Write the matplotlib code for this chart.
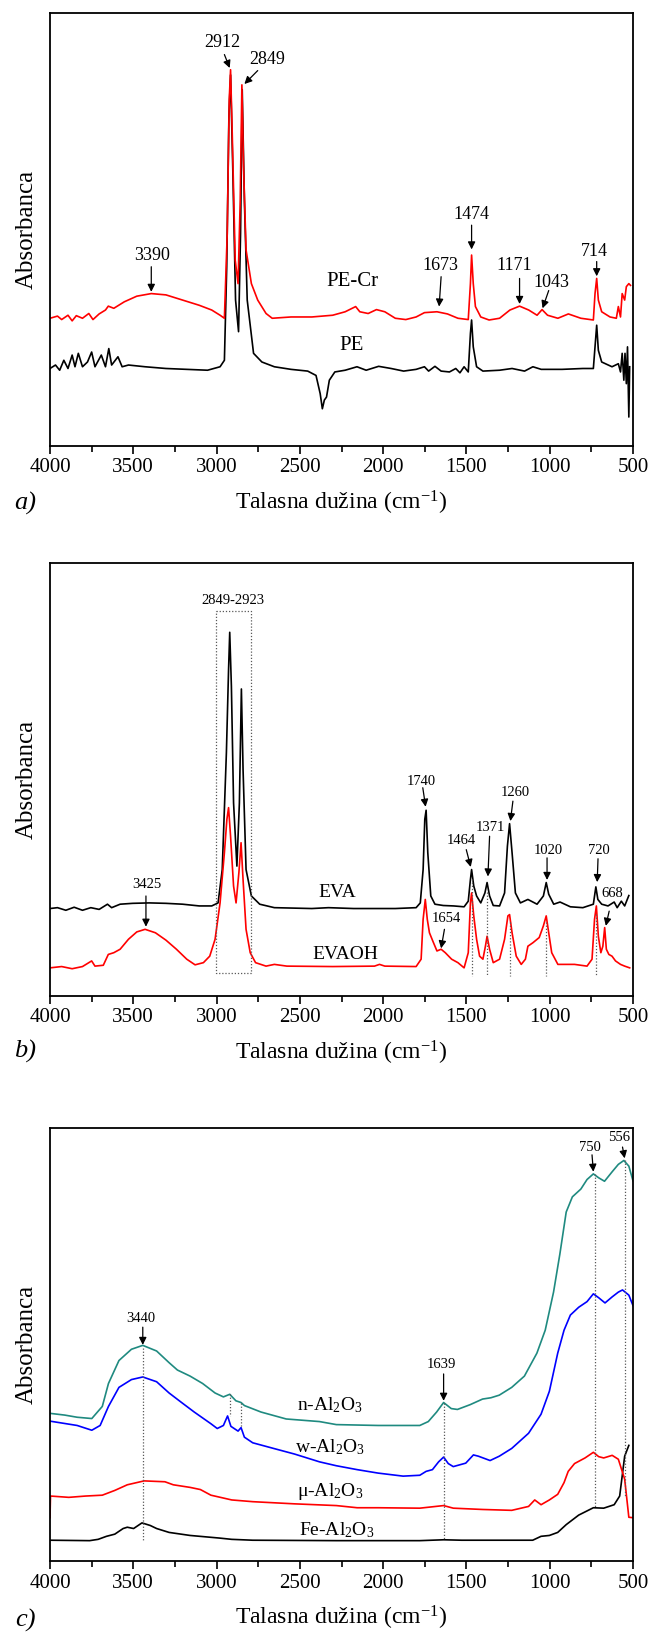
import matplotlib
matplotlib.use("Agg")
import matplotlib.pyplot as plt

plt.rcParams["font.family"] = ["Liberation Serif", "DejaVu Serif"]
plt.rcParams["mathtext.fontset"] = "custom"
plt.rcParams["mathtext.rm"] = "Liberation Serif"
plt.rcParams["mathtext.it"] = "Liberation Serif:italic"

# ---- a) PE and PE-Cr ----
pe_cr_wn = [4000, 3955, 3930, 3892, 3867, 3842, 3805, 3767, 3742, 3705, 3667, 3650, 3617, 3554, 3479,
            3392, 3304, 3204, 3104, 3029, 2979, 2953, 2936, 2924, 2916, 2906, 2888, 2871, 2858, 2848,
            2838, 2823, 2791, 2753, 2703, 2666, 2553, 2428, 2303, 2228, 2165, 2140, 2090, 2040, 1990,
            1927, 1864, 1802, 1752, 1677, 1614, 1551, 1489, 1476, 1469, 1459, 1446, 1414, 1364, 1301,
            1239, 1181, 1126, 1076, 1046, 1013, 951, 888, 813, 738, 728, 718, 708, 688, 638, 600, 588,
            575, 565, 550, 540, 525, 515]
pe_cr_abs = [29.5, 30.0, 29.2, 30.2, 28.9, 30.1, 29.5, 30.6, 29.2, 30.5, 31.4, 32.3, 31.8, 33.3, 34.6,
             35.2, 34.9, 33.7, 32.5, 31.4, 30.2, 29.5, 49.1, 80.0, 86.9, 72.2, 42.9, 37.5, 56.8, 83.4,
             64.5, 45.3, 37.5, 33.7, 30.6, 29.5, 29.8, 29.8, 30.2, 31.0, 32.2, 31.0, 30.6, 31.5, 31.0,
             29.5, 29.2, 29.8, 30.8, 31.0, 30.5, 29.5, 29.2, 37.5, 44.1, 37.5, 32.2, 29.8, 29.1, 29.5,
             31.4, 32.3, 31.4, 30.2, 31.5, 30.2, 29.5, 30.5, 29.5, 29.1, 35.2, 38.7, 33.7, 31.0, 29.8, 29.5, 32.2,
             29.8, 35.2, 33.7, 36.8, 37.5, 37.1]

pe_wn = [4000, 3967, 3942, 3917, 3892, 3867, 3850, 3830, 3805, 3775, 3750, 3730, 3692, 3667, 3647,
         3630, 3592, 3567, 3529, 3429, 3304, 3179, 3054, 2979, 2953, 2939, 2926, 2916, 2903, 2886,
         2868, 2856, 2846, 2833, 2816, 2778, 2728, 2653, 2553, 2453, 2403, 2378, 2365, 2353, 2340,
         2323, 2290, 2228, 2157, 2102, 2027, 1952, 1877, 1802, 1752, 1727, 1689, 1652, 1602, 1564,
         1539, 1514, 1489, 1476, 1469, 1459, 1439, 1401, 1301, 1226, 1151, 1101, 1051, 926, 801,
         738, 728, 718, 708, 688, 626, 588, 575, 565, 555, 548, 540, 533, 525, 520]
pe_abs = [17.9, 18.7, 17.5, 19.8, 17.9, 21.0, 18.3, 21.4, 18.3, 19.4, 21.7, 18.3, 21.0, 18.3, 22.5,
          18.7, 20.6, 18.3, 18.7, 18.3, 17.9, 17.7, 17.5, 18.3, 19.8, 41.4, 76.1, 85.7, 64.5, 33.7,
          26.4, 49.1, 82.3, 56.8, 33.7, 21.4, 19.4, 18.3, 17.7, 17.3, 16.3, 12.1, 8.6, 10.6, 11.3,
          15.2, 17.1, 17.5, 18.3, 17.5, 18.4, 17.9, 17.3, 17.7, 18.3, 17.3, 18.4, 17.3, 17.1, 17.9,
          16.9, 18.3, 17.1, 26.0, 29.1, 22.9, 18.3, 17.3, 17.5, 17.9, 17.3, 18.3, 17.7, 17.7, 17.9,
          17.9, 22.9, 27.9, 22.1, 19.4, 18.3, 19.0, 17.1, 21.4, 15.2, 21.4, 14.4, 22.9, 6.7, 18.3]

# ---- b) EVA and EVAOH ----
eva_wn = [4000, 3955, 3905, 3855, 3805, 3755, 3705, 3655, 3630, 3579, 3504, 3404, 3304, 3204, 3104,
          3029, 2991, 2966, 2941, 2928, 2921, 2911, 2898, 2878, 2863, 2851, 2841, 2823, 2791, 2741,
          2653, 2428, 2328, 2177, 1927, 1802, 1777, 1760, 1750, 1742, 1732, 1714, 1689, 1639, 1577,
          1514, 1489, 1476, 1469, 1456, 1439, 1414, 1389, 1376, 1361, 1339, 1301, 1271, 1254, 1241,
          1226, 1206, 1176, 1131, 1076, 1038, 1021, 1006, 976, 938, 876, 801, 738, 723, 711, 688,
          650, 613, 595, 570, 550, 525]
eva_abs = [20.2, 20.4, 19.8, 20.5, 19.8, 20.4, 20.0, 21.2, 20.4, 21.2, 21.4, 21.5, 21.4, 21.2, 20.8,
           20.8, 21.5, 29.2, 56.2, 75.4, 84.0, 71.5, 44.6, 30.0, 44.6, 70.9, 52.3, 29.2, 23.1, 21.2,
           20.4, 20.2, 20.4, 20.2, 20.2, 20.4, 21.5, 29.2, 40.8, 42.9, 33.1, 23.1, 21.2, 20.9, 20.8,
           20.6, 21.9, 26.9, 29.2, 25.4, 23.1, 21.5, 23.8, 26.2, 23.1, 20.9, 20.8, 23.8, 34.6, 39.8,
           33.1, 23.8, 21.5, 22.3, 21.2, 23.1, 26.2, 23.5, 21.2, 21.7, 20.6, 20.4, 21.2, 25.2, 22.3, 21.2,
           20.8, 21.7, 20.4, 21.9, 20.8, 23.2]

evaoh_wn = [4000, 3930, 3867, 3805, 3750, 3730, 3680, 3650, 3617, 3579, 3529, 3479, 3429, 3367, 3304,
            3241, 3179, 3129, 3079, 3041, 3009, 2979, 2953, 2938, 2928, 2916, 2898, 2883, 2866, 2853,
            2841, 2823, 2798, 2766, 2703, 2653, 2578, 2303, 2052, 2022, 1990, 1802, 1772, 1760, 1747,
            1735, 1722, 1702, 1677, 1652, 1627, 1589, 1551, 1514, 1489, 1476, 1469, 1456, 1439, 1421,
            1401, 1386, 1376, 1361, 1339, 1301, 1271, 1251, 1241, 1226, 1201, 1171, 1146, 1131, 1101,
            1063, 1038, 1021, 1006, 988, 951, 851, 776, 746, 731, 720, 708, 693, 681, 670, 660, 645,
            626, 605, 575, 550, 520]
evaoh_abs = [6.5, 6.8, 6.3, 6.8, 8.1, 6.9, 7.1, 9.6, 10.0, 10.8, 13.1, 14.8, 15.4, 14.6, 12.9,
             10.8, 8.5, 7.2, 7.7, 9.2, 13.1, 21.5, 33.1, 40.8, 43.5, 36.9, 25.4, 21.5, 28.5, 35.4,
             26.9, 15.4, 10.0, 7.7, 6.9, 7.3, 6.9, 6.8, 6.9, 7.3, 6.9, 6.8, 8.5, 17.7, 22.3,
             17.7, 14.6, 12.7, 10.4, 10.8, 10.0, 8.5, 7.7, 6.5, 10.0, 21.5, 23.8, 18.5, 13.1, 9.2,
             8.5, 11.5, 13.8, 10.8, 7.7, 8.5, 13.1, 18.5, 18.8, 14.6, 9.2, 7.3, 8.5, 11.5, 12.3,
             13.5, 16.2, 18.5, 14.6, 10.0, 7.3, 7.3, 6.9, 8.5, 17.7, 20.8, 13.8, 10.0, 11.5, 15.8, 10.8, 9.6,
             9.2, 8.1, 7.3, 6.9, 6.5]

# ---- c) Al2O3 samples ----
n_al_wn = [4000, 3912, 3837, 3749, 3686, 3649, 3586, 3511, 3443, 3360, 3285, 3235, 3159, 3084, 3009,
           2959, 2921, 2884, 2853, 2833, 2733, 2582, 2382, 2281, 2030, 1780, 1729, 1679, 1637, 1591,
           1554, 1478, 1403, 1353, 1303, 1228, 1152, 1077, 1027, 977, 939, 901, 864, 813, 776, 738,
           706, 671, 625, 588, 555, 525, 500]
n_al_abs = [34.1, 33.7, 33.2, 32.9, 35.7, 41.0, 46.3, 48.9, 49.8, 48.5, 45.8, 44.1, 42.7, 41.0, 38.8,
            37.9, 38.5, 37.0, 36.6, 35.9, 34.4, 32.8, 32.2, 31.5, 31.3, 31.3, 32.2, 34.4, 36.6, 35.2,
            35.0, 36.1, 37.4, 37.7, 38.3, 40.1, 42.7, 48.0, 53.3, 62.1, 70.9, 80.6, 84.1, 85.9, 88.1, 89.4,
            88.5, 87.7, 89.9, 91.6, 92.5, 91.2, 87.8]

w_al_wn = [4000, 3837, 3749, 3699, 3649, 3586, 3511, 3443, 3360, 3285, 3210, 3134, 3034, 2996, 2959,
           2934, 2914, 2871, 2853, 2833, 2783, 2658, 2532, 2382, 2281, 2156, 2030, 1880, 1780, 1742,
           1704, 1667, 1637, 1609, 1579, 1504, 1458, 1428, 1358, 1303, 1228, 1127, 1052, 1002, 952,
           914, 876, 826, 776, 738, 706, 668, 625, 588, 563, 525, 500]
w_al_abs = [32.3, 31.3, 30.2, 31.3, 35.7, 40.1, 41.9, 42.5, 41.4, 38.8, 36.6, 34.4, 31.7, 30.6, 31.3,
            33.5, 31.1, 30.0, 30.8, 28.6, 27.3, 26.0, 24.7, 22.9, 22.0, 21.1, 20.3, 19.6, 19.8, 20.7,
            21.1, 22.9, 24.0, 22.5, 21.8, 22.6, 24.5, 24.2, 23.2, 24.2, 26.0, 29.5, 33.9, 39.2, 48.0,
            53.3, 56.8, 58.6, 59.9, 61.7, 60.8, 59.6, 61.0, 62.1, 62.6, 61.4, 59.0]

mu_al_wn = [4000, 3997, 3887, 3787, 3686, 3611, 3536, 3435, 3310, 3260, 3159, 3097, 3034, 2909, 2783,
            2532, 2281, 2156, 2030, 1780, 1637, 1579, 1403, 1228, 1127, 1090, 1052, 1002, 952, 914,
            889, 851, 788, 738, 706, 676, 625, 588, 550, 525, 500]
mu_al_abs = [10.0, 15.0, 14.7, 15.0, 15.2, 16.3, 17.6, 18.5, 18.3, 17.6, 17.0, 16.5, 15.2, 14.1, 13.7,
             13.2, 12.8, 12.3, 12.3, 12.2, 12.8, 12.2, 11.9, 11.7, 12.6, 14.1, 13.0, 14.1, 15.4, 18.1,
             20.7, 22.5, 23.8, 25.1, 24.1, 23.8, 24.4, 23.5, 18.9, 10.1, 10.0]

fe_al_wn = [4000, 3762, 3711, 3661, 3611, 3561, 3536, 3498, 3448, 3398, 3360, 3285, 3159, 2984, 2909,
            2783, 2281, 1780, 1637, 1529, 1102, 1052, 1002, 952, 901, 826, 738, 676, 613, 580, 550, 525]
fe_al_abs = [4.8, 4.7, 5.0, 5.7, 6.2, 7.5, 7.8, 7.5, 8.8, 8.2, 7.5, 6.6, 5.9, 5.3, 5.0,
             4.8, 4.7, 4.7, 4.9, 4.8, 4.8, 5.7, 5.9, 6.6, 8.4, 10.6, 12.3, 12.2, 13.0, 15.0, 24.2, 26.7]

xticks = [4000, 3500, 3000, 2500, 2000, 1500, 1000, 500]

fig = plt.figure(figsize=(6.54, 16.38), dpi=100)
W, H = 654.0, 1638.0


def make_axes(top_px, bottom_px):
    ax = fig.add_axes([50 / W, 1 - bottom_px / H, 583 / W, (bottom_px - top_px) / H])
    ax.set_xlim(4000, 500)
    ax.set_ylim(0, 100)
    ax.set_xticks(xticks)
    ax.set_xticks(range(3750, 500, -500), minor=True)
    ax.set_yticks([])
    ax.tick_params(axis="x", which="major", direction="out", length=6, width=1.2,
                   labelsize=15, pad=3, top=False)
    ax.tick_params(axis="x", which="minor", direction="out", length=4, width=1.2, top=False)
    for s in ax.spines.values():
        s.set_linewidth(1.3)
    ax.set_ylabel("Absorbanca", fontsize=18, labelpad=9)
    ax.set_xlabel("Talasna dužina (cm$^{-1}$)", fontsize=17, labelpad=8)
    return ax


def arrow(ax, x0, y0, x1, y1):
    ax.annotate("", xy=(x1, y1), xytext=(x0, y0),
                arrowprops=dict(arrowstyle="-|>", color="k", lw=0.9, mutation_scale=11,
                                shrinkA=0, shrinkB=0))


def vline(ax, x, y0, y1):
    ax.plot([x, x], [y0, y1], color="0.35", lw=0.9, ls=(0, (1, 1.5)))


# a)
ax = make_axes(13, 446)
ax.plot(pe_wn, pe_abs, color="black", lw=1.2)
ax.plot(pe_cr_wn, pe_cr_abs, color="red", lw=1.2)
ax.text(2182, 38.1, "PE-Cr", fontsize=15, ha="center", va="center")
ax.text(2190, 23.1, "PE", fontsize=15, ha="center", va="center")
labels_a = [("3390", 3387, 43.9, 3392, 41.4, 3392, 35.6),
            ("2912", 2966, 93.1, 2953, 90.4, 2921, 87.3),
            ("2849", 2696, 89.2, 2753, 86.7, 2833, 83.6),
            ("1673", 1657, 41.8, 1652, 39.1, 1664, 32.2),
            ("1474", 1469, 53.4, 1469, 51.0, 1469, 45.4),
            ("1171", 1214, 41.6, 1181, 38.7, 1181, 32.8),
            ("1043", 988, 37.7, 1006, 35.9, 1043, 31.8),
            ("714", 730, 45.0, 718, 42.6, 718, 39.2)]
for t, tx, ty, x0, y0, x1, y1 in labels_a:
    ax.text(tx, ty, t, fontsize=13, ha="center", va="center")
    arrow(ax, x0, y0, x1, y1)
fig.text(25 / W, 1 - 503 / H, "a)", fontsize=19, style="italic", ha="center", va="center")

# b)
ax = make_axes(563, 996)
ax.plot(eva_wn, eva_abs, color="black", lw=1.2)
ax.plot(evaoh_wn, evaoh_abs, color="red", lw=1.2)
ax.plot([3003, 2795, 2795, 3003, 3003], [88.8, 88.8, 5.2, 5.2, 88.8], color="0.35", lw=0.9,
        ls=(0, (1, 1.5)))
ax.text(2900, 91.4, "2849-2923", fontsize=10.5, ha="center", va="center")
for x, top in [(1469, 27.0), (1374, 24.0), (1241, 17.0), (1021, 17.0), (720, 19.0)]:
    vline(ax, x, top, 4.6)
ax.text(2278, 23.8, "EVA", fontsize=14, ha="center", va="center")
ax.text(2227, 9.6, "EVAOH", fontsize=14, ha="center", va="center")
labels_b = [("3425", 3417, 25.8, 3424, 23.1, 3424, 16.0),
            ("1740", 1772, 49.6, 1762, 48.1, 1745, 43.7),
            ("1464", 1531, 35.8, 1501, 33.8, 1474, 29.8),
            ("1371", 1356, 38.8, 1361, 36.9, 1371, 27.6),
            ("1260", 1206, 47.1, 1221, 45.0, 1236, 40.4),
            ("1020", 1006, 33.7, 1016, 31.9, 1016, 26.8),
            ("720", 705, 33.6, 710, 31.7, 715, 26.3),
            ("668", 625, 23.7, 643, 19.6, 663, 16.2),
            ("1654", 1619, 17.8, 1632, 15.4, 1652, 11.0)]
for t, tx, ty, x0, y0, x1, y1 in labels_b:
    ax.text(tx, ty, t, fontsize=10.5, ha="center", va="center")
    arrow(ax, x0, y0, x1, y1)
fig.text(25 / W, 1 - 1051 / H, "b)", fontsize=19, style="italic", ha="center", va="center")

# c)
ax = make_axes(1128, 1561)
ax.plot(fe_al_wn, fe_al_abs, color="black", lw=1.2)
ax.plot(mu_al_wn, mu_al_abs, color="red", lw=1.2)
ax.plot(w_al_wn, w_al_abs, color="blue", lw=1.2)
ax.plot(n_al_wn, n_al_abs, color="#1f8a80", lw=1.2)
for x, top, bot in [(3443, 49.3, 4.8), (2921, 38.5, 33.5), (2853, 36.6, 30.8),
                    (1637, 36.6, 4.8), (726, 89.4, 12.3), (550, 92.5, 15.0)]:
    vline(ax, x, top, bot)
ax.text(2319, 35.9, "n-Al$_2$O$_3$", fontsize=14, ha="center", va="center")
ax.text(2319, 26.2, "w-Al$_2$O$_3$", fontsize=14, ha="center", va="center")
ax.text(2319, 16.0, "μ-Al$_2$O$_3$", fontsize=14, ha="center", va="center")
ax.text(2281, 7.2, "Fe-Al$_2$O$_3$", fontsize=14, ha="center", va="center")
labels_c = [("3440", 3456, 55.9, 3443, 54.0, 3443, 49.9),
            ("1639", 1649, 45.4, 1637, 43.2, 1637, 37.0),
            ("750", 758, 95.6, 746, 93.8, 738, 89.9),
            ("556", 583, 97.8, 563, 95.6, 550, 93.0)]
for t, tx, ty, x0, y0, x1, y1 in labels_c:
    ax.text(tx, ty, t, fontsize=10.5, ha="center", va="center")
    arrow(ax, x0, y0, x1, y1)
fig.text(25 / W, 1 - 1620 / H, "c)", fontsize=19, style="italic", ha="center", va="center")

fig.savefig("out.png", dpi=100)
